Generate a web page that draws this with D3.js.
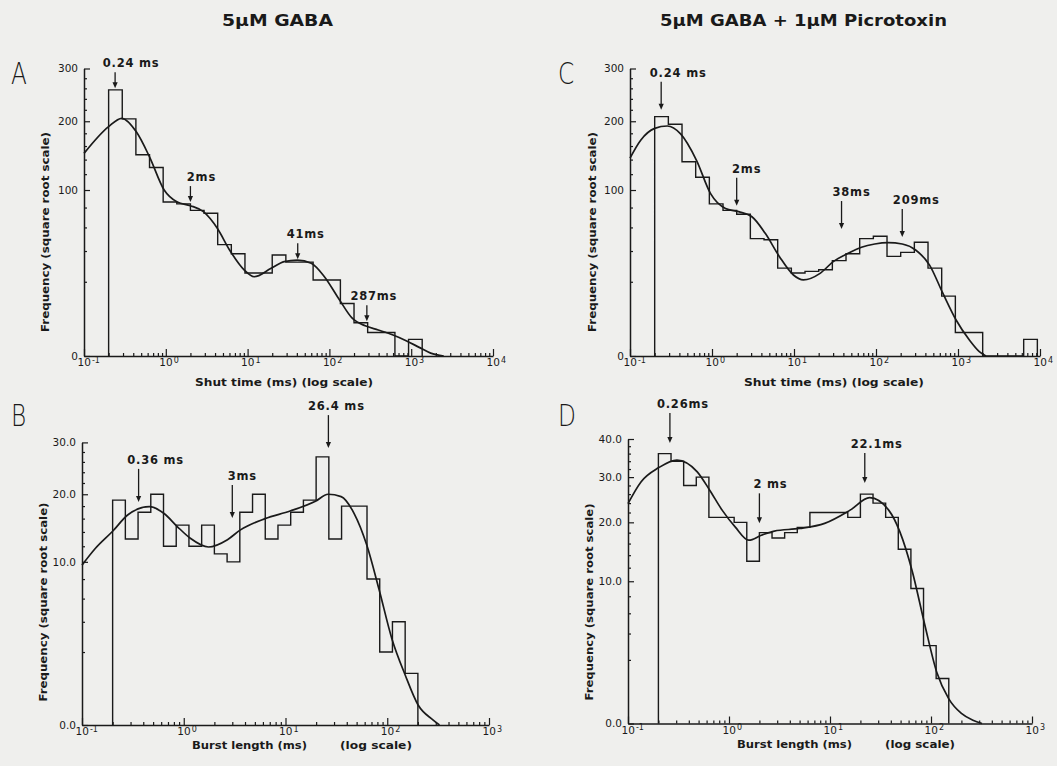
<!DOCTYPE html>
<html>
<head>
<meta charset="utf-8">
<script src="https://cdn.jsdelivr.net/npm/d3@7"></script>
<style>
  body { margin: 0; background: #efefed; }
  svg { display: block; background: #efefed; }
  text { font-family: "DejaVu Sans", "Noto Sans", sans-serif; fill: #1a1a1a; }
</style>
</head>
<body>
<svg id="fig" width="1057" height="766"></svg>
<script>
// ---- data ----
const binStartMs = 0.2;
const shutBinsPerDecade = 6;
const burstBinsPerDecade = 8;

// frequencies per bin (square-root axes)
const shutCountsGaba = [257, 204, 147, 129, 86, 84, 77, 74, 45, 38, 25, 25, 37, 32, 32, 21, 21, 10, 4, 2, 2, 0, 1];
const shutCountsPicro = [208, 195, 137, 116, 84, 77, 73, 50, 49, 28, 25, 26, 27, 33, 38, 50, 52, 36, 39, 47, 28, 13, 2, 2, 0, 0, 0, 1];
const burstCountsGaba = [19, 13, 17, 20, 12, 15, 12, 15, 11, 10, 17, 20, 13, 15, 17, 19, 27, 13, 18, 18, 8, 2, 4, 1];
const burstCountsPicro = [36, 34, 28, 30, 21, 21, 20, 13, 18, 17, 18, 19, 22, 22, 22, 21, 26, 24, 21, 15, 9, 3, 1];

// fitted curves, [time ms, frequency]
const fitShutGaba = [[0.1,149],[0.2,191],[0.289,205],[0.438,182],[0.632,144],[0.955,100],[1.38,86],[2.0,82],[2.88,75.6],[4.28,59],[6.02,40.8],[9.12,26.8],[12,22.8],[19.4,27.9],[28,32.3],[40.5,33.4],[60,31.2],[86.9,22.8],[129,12.1],[190,5.2],[274,3.3],[396,2.45],[600,1.6],[867,0.85],[1253,0.27],[1730,0.03],[2500,0]];
const fitShutPicro = [[0.1,142],[0.135,169],[0.2,188],[0.285,192],[0.414,179],[0.647,139],[0.957,96],[1.46,79],[2.11,75.6],[3.07,70.4],[4.46,54.6],[6.65,35.8],[9.84,23.8],[13,21],[20.8,24.8],[30.1,32.3],[45.8,38.3],[66.5,42.9],[96.6,45.5],[140,46.6],[209,45.5],[304,40.8],[450,30],[653,14.3],[948,4.7],[1377,0.93],[1820,0.07],[2190,0]];
const fitBurstGaba = [[0.1,9.6],[0.135,11.7],[0.2,14.1],[0.283,16.6],[0.459,17.9],[0.641,16.8],[0.863,14.8],[1.16,13.1],[1.75,11.9],[2.69,12.9],[3.61,14.3],[6.3,16.0],[11.1,17.2],[19.7,18.8],[26.2,20.0],[35.2,19.6],[47.3,16.8],[62.8,12.2],[82.6,7.0],[111,2.8],[150,0.94],[201,0.15],[281,0.01],[326,0]];
const fitBurstPicro = [[0.1,23.9],[0.135,28.9],[0.2,32.3],[0.305,34.3],[0.485,31.3],[0.644,26.9],[0.855,22.5],[1.15,19.1],[1.57,16.6],[2.09,17.5],[2.81,18.3],[4.99,18.8],[8.85,19.8],[15.8,22.5],[24.7,25.2],[38.1,22.5],[49.1,18.2],[65.1,11.5],[86.4,4.9],[114,1.3],[150,0.3],[200,0.05],[260,0.005],[320,0]];

// time constants marked with arrows
const tauShutGaba = [0.24, 2, 41, 287];
const tauShutGabaLabels = ["0.24 ms", "2ms", "41ms", "287ms"];
const tauShutGabaTips = [260, 86, 34, 4.4];
const tauShutPicro = [0.24, 2, 38, 209];
const tauShutPicroLabels = ["0.24 ms", "2ms", "38ms", "209ms"];
const tauShutPicroTips = [220, 82, 58.5, 51.4];
const tauBurstGaba = [0.36, 3, 26.4];
const tauBurstGabaLabels = ["0.36 ms", "3ms", "26.4 ms"];
const tauBurstGabaTips = [18.7, 16.1, 28.8];
const tauBurstPicro = [0.26, 2, 22.1];
const tauBurstPicroLabels = ["0.26ms", "2 ms", "22.1ms"];
const tauBurstPicroTips = [38.9, 19.8, 28.6];

// axis ticks
const shutYTicks = [0, 100, 200, 300];
const burstGabaYTicks = [0, 10, 20, 30];
const burstPicroYTicks = [0, 10, 20, 30, 40];
const shutDecades = [-1, 0, 1, 2, 3, 4];
const burstDecades = [-1, 0, 1, 2, 3];

const titleGaba = "5μM GABA";
const titlePicro = "5μM GABA + 1μM Picrotoxin";
const yTitle = "Frequency (square root scale)";
const shutXTitle = "Shut time (ms) (log scale)";
const burstXTitle = ["Burst length (ms)", "(log scale)"];

// ---- layout ----
const ink = "#1a1a1a";
const svg = d3.select("#fig");

const panels = [
  { letter: "A", lx: 11, ly: 84, x0: 84, x1: 493, y0: 356, yTop: 68.5, yTicks: shutYTicks, minorStep: 20, fmt: d3.format("d"),
    decades: shutDecades, counts: shutCountsGaba, perDec: shutBinsPerDecade, fit: fitShutGaba,
    taus: tauShutGaba, tauLabels: tauShutGabaLabels, tips: tauShutGabaTips, arrowLen: 16, labelDx: [16, 11, 8, 7],
    yt: [45, 232, 200], xt: [[shutXTitle, 284, 178]], xtY: 386 },
  { letter: "C", lx: 558, ly: 84, x0: 630, x1: 1040, y0: 356, yTop: 68.5, yTicks: shutYTicks, minorStep: 20, fmt: d3.format("d"),
    decades: shutDecades, counts: shutCountsPicro, perDec: shutBinsPerDecade, fit: fitShutPicro,
    taus: tauShutPicro, tauLabels: tauShutPicroLabels, tips: tauShutPicroTips, arrowLen: 28, labelDx: [17, 10, 10, 14],
    yt: [592, 232, 200], xt: [[shutXTitle, 834, 180]], xtY: 386 },
  { letter: "B", lx: 11, ly: 426, x0: 82, x1: 489, y0: 725, yTop: 442.4, yTicks: burstGabaYTicks, minorStep: 2, fmt: d3.format(".1f"),
    decades: burstDecades, counts: burstCountsGaba, perDec: burstBinsPerDecade, fit: fitBurstGaba,
    taus: tauBurstGaba, tauLabels: tauBurstGabaLabels, tips: tauBurstGabaTips, arrowLen: 33, labelDx: [17, 10, 8],
    yt: [43, 602, 199], xt: [[burstXTitle[0], 249.5, 115], [burstXTitle[1], 376, 72]], xtY: 749 },
  { letter: "D", lx: 558, ly: 426, x0: 628, x1: 1032, y0: 723.5, yTop: 439, yTicks: burstPicroYTicks, minorStep: 2, fmt: d3.format(".1f"),
    decades: burstDecades, counts: burstCountsPicro, perDec: burstBinsPerDecade, fit: fitBurstPicro,
    taus: tauBurstPicro, tauLabels: tauBurstPicroLabels, tips: tauBurstPicroTips, arrowLen: 30, labelDx: [13, 11, 12],
    yt: [589, 602, 197], xt: [[burstXTitle[0], 794.5, 115], [burstXTitle[1], 920, 70]], xtY: 748 }
];

// column titles
svg.append("text").attr("x", 277.5).attr("y", 26).attr("text-anchor", "middle")
  .attr("font-size", 15).attr("font-family", "'Open Sans', 'DejaVu Sans', sans-serif").attr("font-weight", 600)
  .attr("textLength", 111).attr("lengthAdjust", "spacingAndGlyphs").text(titleGaba);
svg.append("text").attr("x", 803.5).attr("y", 26).attr("text-anchor", "middle")
  .attr("font-size", 15).attr("font-family", "'Open Sans', 'DejaVu Sans', sans-serif").attr("font-weight", 600)
  .attr("textLength", 287).attr("lengthAdjust", "spacingAndGlyphs").text(titlePicro);

function drawPanel(p) {
  const g = svg.append("g");
  const x = d3.scaleLog()
    .domain([Math.pow(10, p.decades[0]), Math.pow(10, p.decades[p.decades.length - 1])])
    .range([p.x0, p.x1]);
  const yMax = p.yTicks[p.yTicks.length - 1];
  const y = d3.scaleSqrt().domain([0, yMax]).range([p.y0, p.yTop]);

  // panel letter
  g.append("text").attr("transform", "translate(" + p.lx + "," + p.ly + ") scale(0.75,1)")
    .attr("font-size", 31).attr("font-family", "Lato, 'DejaVu Sans', sans-serif").attr("font-weight", 300)
    .text(p.letter);

  // minor y ticks
  const minorY = d3.range(p.minorStep, yMax, p.minorStep).filter(v => p.yTicks.indexOf(v) < 0);
  g.append("g").attr("transform", "translate(" + p.x0 + ",0)")
    .call(d3.axisLeft(y).tickValues(minorY).tickSizeInner(-3).tickSizeOuter(0).tickFormat(""))
    .call(a => a.select(".domain").remove());
  // major y axis
  const ya = g.append("g").attr("transform", "translate(" + p.x0 + ",0)")
    .call(d3.axisLeft(y).tickValues(p.yTicks).tickSizeInner(-6).tickSizeOuter(0).tickPadding(6).tickFormat(p.fmt));
  ya.selectAll("text").attr("font-size", 10.5).attr("font-family", "'DejaVu Sans', sans-serif").style("fill", ink);

  // minor x ticks
  const minorX = [];
  p.decades.slice(0, -1).forEach(k => { for (let m = 2; m < 10; m++) minorX.push(m * Math.pow(10, k)); });
  g.append("g").attr("transform", "translate(0," + p.y0 + ")")
    .call(d3.axisBottom(x).tickValues(minorX).tickSizeInner(-3).tickSizeOuter(0).tickFormat(""))
    .call(a => a.select(".domain").remove());
  // major x axis with 10^k labels
  const xa = g.append("g").attr("transform", "translate(0," + p.y0 + ")")
    .call(d3.axisBottom(x).tickValues(p.decades.map(k => Math.pow(10, k))).tickSizeInner(-7).tickSizeOuter(0).tickPadding(3));
  xa.selectAll(".tick text").each(function (d) {
    const t = d3.select(this).text(null).attr("text-anchor", "start").attr("x", -7)
      .attr("font-size", 10.5).style("fill", ink);
    t.append("tspan").text("10");
    t.append("tspan").attr("dy", "-0.45em").attr("dx", "1").attr("font-size", 8)
      .text(String(Math.round(Math.log10(d))));
  });

  [ya, xa].forEach(a => {
    a.select(".domain").attr("stroke", ink).attr("stroke-width", 1.5);
  });
  g.selectAll(".tick line").attr("stroke", ink).attr("stroke-width", 1.2);

  // histogram outline
  const last = p.counts.length - 1;
  const edge = i => binStartMs * Math.pow(10, i / p.perDec);
  const pts = [[edge(0), 0]]
    .concat(p.counts.map((c, i) => [edge(i), c]))
    .concat([[edge(last + 1), p.counts[last]], [edge(last + 1), 0]]);
  g.append("path")
    .attr("d", d3.line().x(d => x(d[0])).y(d => y(d[1])).curve(d3.curveStepAfter)(pts))
    .attr("fill", "none").attr("stroke", ink).attr("stroke-width", 1.4);

  // fitted curve
  g.append("path")
    .attr("d", d3.line().x(d => x(d[0])).y(d => y(d[1])).curve(d3.curveMonotoneX)(p.fit))
    .attr("fill", "none").attr("stroke", ink).attr("stroke-width", 1.7);

  // arrows and time-constant labels
  p.taus.forEach((tau, i) => {
    const ax = x(tau), tip = y(p.tips[i]), top = tip - p.arrowLen;
    g.append("line").attr("x1", ax).attr("x2", ax).attr("y1", top).attr("y2", tip - 4)
      .attr("stroke", ink).attr("stroke-width", 1.3);
    g.append("path").attr("d", "M" + (ax - 2.6) + "," + (tip - 6) + "L" + (ax + 2.6) + "," + (tip - 6) + "L" + ax + "," + tip + "Z")
      .attr("fill", ink);
    g.append("text").attr("x", ax + p.labelDx[i]).attr("y", top - 5).attr("text-anchor", "middle")
      .attr("font-size", 11.5).attr("font-weight", "bold").attr("letter-spacing", 0.8)
      .text(p.tauLabels[i]);
  });

  // axis titles
  g.append("text").attr("transform", "translate(" + p.yt[0] + "," + p.yt[1] + ") rotate(-90)")
    .attr("text-anchor", "middle").attr("dy", "0.35em").attr("font-size", 10.5).attr("font-weight", "bold")
    .attr("textLength", p.yt[2]).attr("lengthAdjust", "spacingAndGlyphs").text(yTitle);
  p.xt.forEach(t => {
    g.append("text").attr("x", t[1]).attr("y", p.xtY).attr("text-anchor", "middle")
      .attr("font-size", 10.5).attr("font-weight", "bold")
      .attr("textLength", t[2]).attr("lengthAdjust", "spacingAndGlyphs").text(t[0]);
  });
}

panels.forEach(drawPanel);
</script>
</body>
</html>
